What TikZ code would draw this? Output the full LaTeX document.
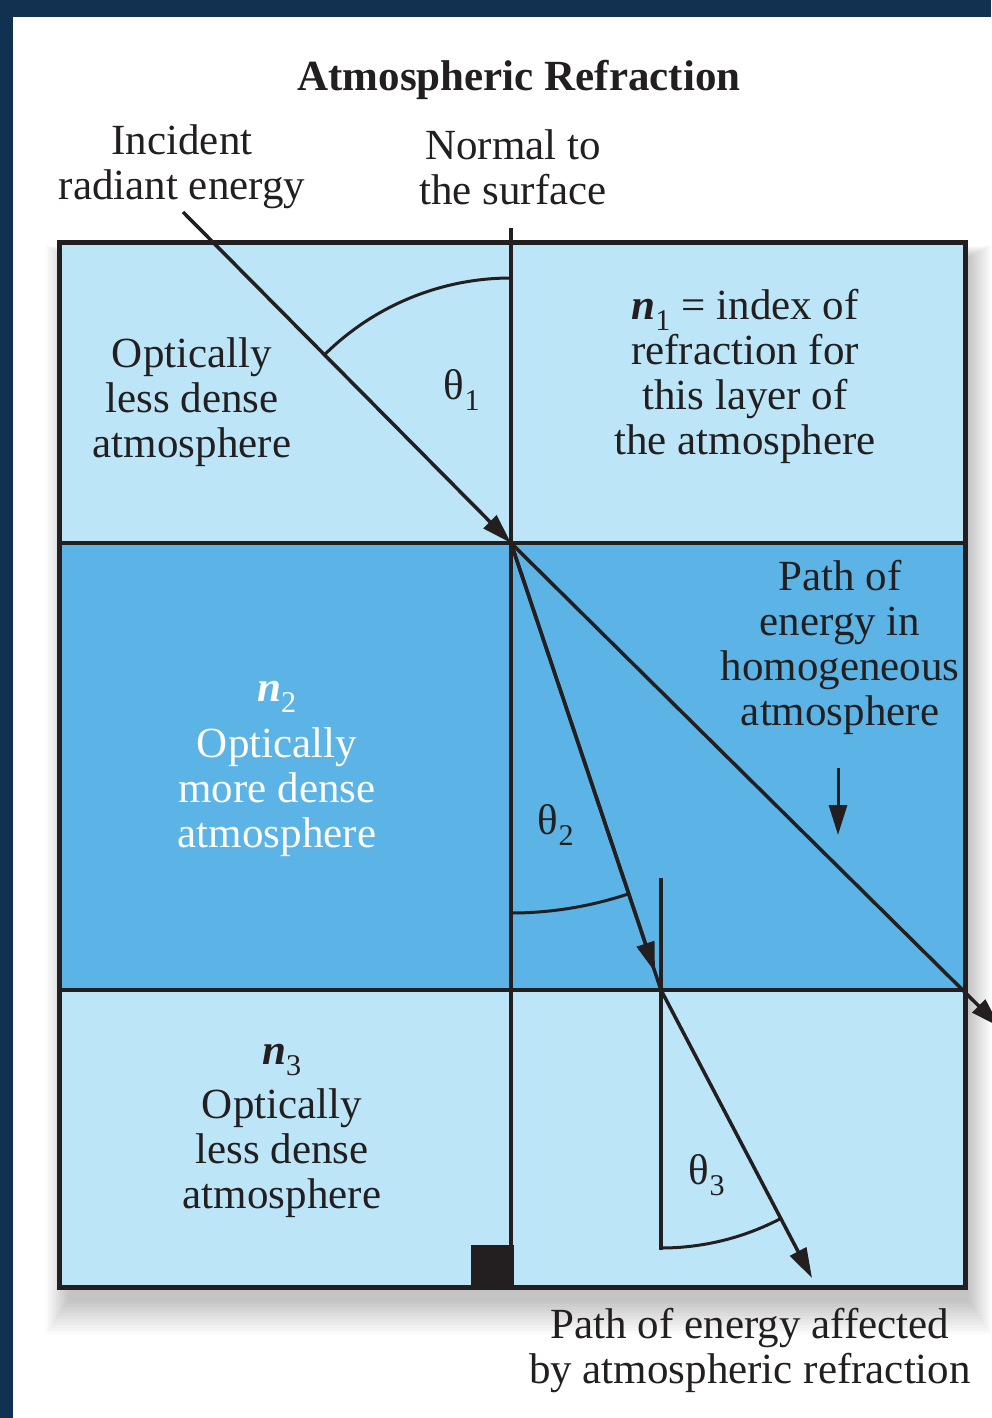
\documentclass[tikz,border=0pt]{standalone}
\usepackage{fontspec}
\setmainfont{Liberation Serif}
\usetikzlibrary{arrows.meta,calc}
\definecolor{navy}{HTML}{12304F}
\definecolor{lightsky}{HTML}{BCE5F7}
\definecolor{midsky}{HTML}{5BB4E5}
\definecolor{ink}{HTML}{231F20}
\tikzset{
  txt/.style={align=center, text=ink, font=\fontsize{43}{45}\selectfont, inner sep=0pt},
  ray/.style={draw=ink, line width=3.5pt},
  arrowed/.style={-{Triangle[length=30pt,width=18pt]}},
}
\newcommand{\idx}[1]{\textbf{\textit{n}}\textsubscript{#1}}
\newcommand{\ang}[1]{θ\textsubscript{#1}}
\begin{document}
\begin{tikzpicture}[x=1pt, y=1pt]
\useasboundingbox (0,0) rectangle (991,-1418);
% page and card
\fill[navy] (0,0) rectangle (991,-1418);
\fill[white] (13,-17) rectangle (991,-1418);
% soft shadow
\foreach \i in {1,...,12}
  \fill[black, opacity=0.02] (70-2*\i,-258+\i) rectangle (967+2*\i,-1298-3*\i);

% corners and crossing points
\coordinate (boxNW) at (59,-242);
\coordinate (boxSE) at (965,-1287);
\coordinate (midW1) at (59,-543);
\coordinate (midE1) at (965,-543);
\coordinate (midW2) at (59,-990);
\coordinate (midE2) at (965,-990);
\coordinate (hit1) at (511,-543);
\coordinate (hit2) at (661,-990);
\coordinate (src) at (183,-212);
\coordinate (ntop) at (511,-228);
\coordinate (nbot) at (511,-1245);
\coordinate (n2top) at (661,-878);
\coordinate (n2bot) at (661,-1250);
\coordinate (out) at (812,-1278);
\coordinate (straight) at (1000,-1027);
\coordinate (pathtop) at (838,-768);
\coordinate (pathbot) at (838,-835);

% layers
\fill[lightsky] (boxNW) rectangle (midE1);
\fill[midsky] (midW1) rectangle (midE2);
\fill[lightsky] (midW2) rectangle (boxSE);
\draw[ink, line width=4pt] (midW1) -- (midE1);
\draw[ink, line width=4pt] (midW2) -- (midE2);
\draw[ink, line width=5pt] (boxNW) rectangle (boxSE);

% normals
\draw[ray] (ntop) -- (nbot);
\fill[ink] (471,-1245) rectangle (514,-1287);
\draw[ray] (n2top) -- (n2bot);

% rays
\draw[ray, arrowed] (src) -- (hit1);
\draw[ray, arrowed] (hit1) -- (straight);
\draw[ray] (hit1) -- (hit2);
\draw[ray, arrowed] (hit1) -- ($(hit1)!0.96!(hit2)$);
\draw[ray, arrowed] (hit2) -- (out);
\draw[ray, line width=3pt, arrowed] (pathtop) -- (pathbot);

% angles
\draw[ray, line width=3pt] (hit1) ++(90:265) arc[start angle=90, end angle=135, radius=265];
\draw[ray, line width=3pt] (hit1) ++(270:370) arc[start angle=270, end angle=288.5, radius=370];
\draw[ray, line width=3pt] (hit2) ++(270:258) arc[start angle=270, end angle=297.7, radius=258];

% texts
\node (title) [txt, font=\fontsize{43}{45}\selectfont\bfseries] at (519,-80) {Atmospheric Refraction};
\node (incident) [txt] at (182,-167) {Incident\\radiant energy};
\node (normal) [txt] at (513,-167) {Normal to\\the surface};
\node (layer1) [txt] at (192,-402) {Optically\\less dense\\atmosphere};
\node (theta1) [txt] at (462,-390) {\ang{1}};
\node (index1) [txt] at (745,-376) {\idx{1} = index of\\refraction for\\this layer of\\the atmosphere};
\node (layer2) [txt, text=white] at (277,-769) {\idx{2}\\[11pt]Optically\\more dense\\atmosphere};
\node (homog) [txt] at (840,-647) {Path of\\energy in\\homogeneous\\atmosphere};
\node (theta2) [txt] at (556,-825) {\ang{2}};
\node (layer3) [txt] at (282,-1131) {\idx{3}\\[9pt]Optically\\less dense\\atmosphere};
\node (theta3) [txt] at (707,-1175) {\ang{3}};
\node (affected) [txt] at (750,-1350) {Path of energy affected\\by atmospheric refraction};
\end{tikzpicture}
\end{document}
